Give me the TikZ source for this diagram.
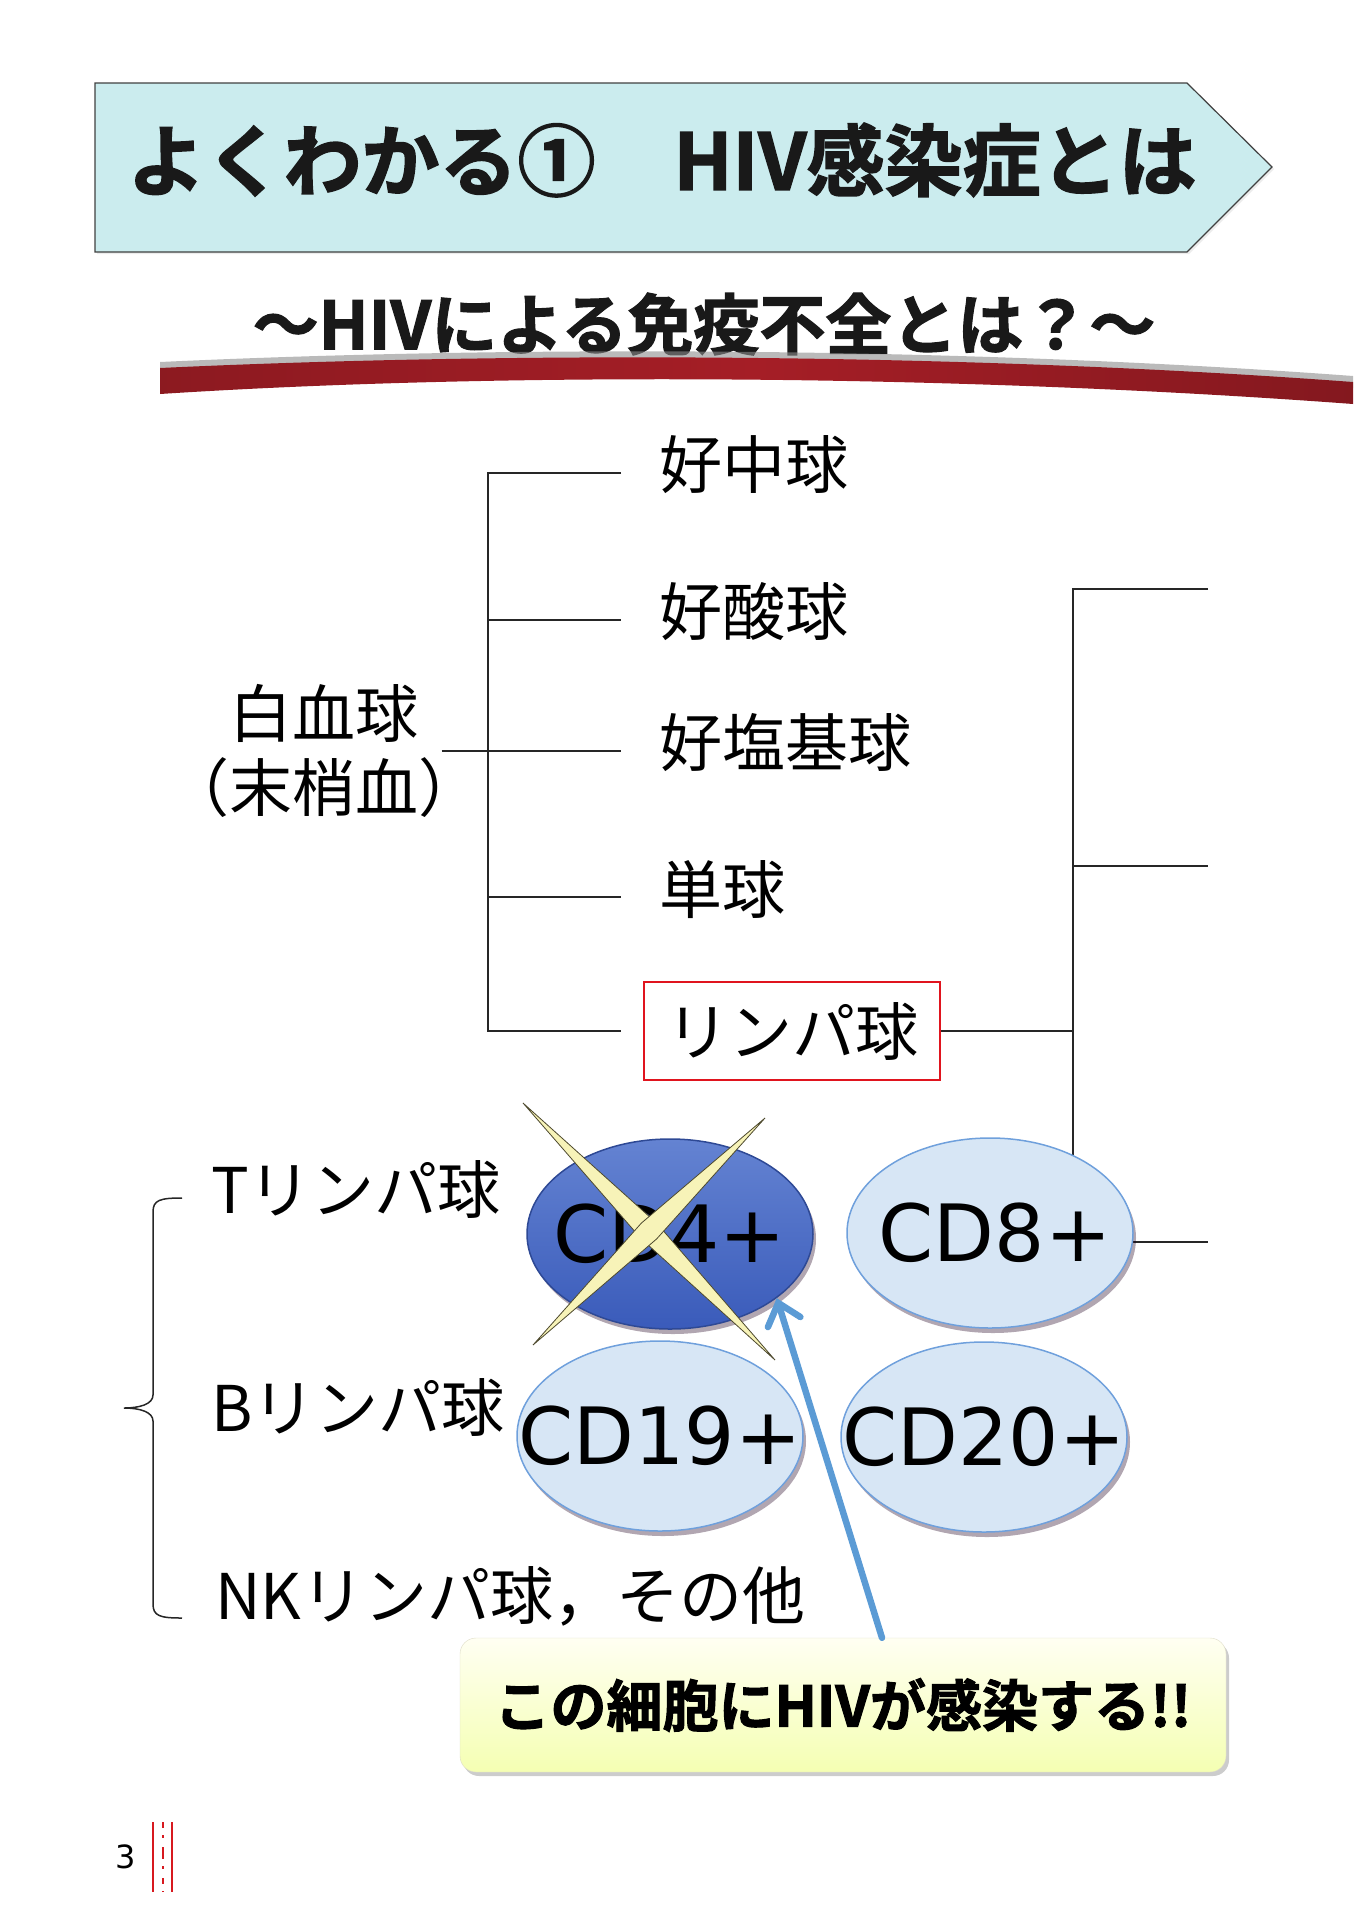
\documentclass[tikz,border=0pt]{standalone}
\usepackage{fontspec}
\setmainfont{Noto Sans CJK JP}
\newfontfamily\heavyfont{Noto Sans CJK JP Bold}[FakeBold=1.8]
\newfontfamily\latinfont{DejaVu Sans}
\usetikzlibrary{arrows.meta,positioning,shapes.geometric,calc,shadows}

\definecolor{titlecyan}{HTML}{CBECEE}
\definecolor{ribbonred}{HTML}{A51E26}
\definecolor{boxred}{HTML}{E0141E}
\definecolor{cellfill}{HTML}{D7E6F5}
\definecolor{cellrim}{HTML}{6FA0DC}
\definecolor{darktop}{HTML}{6483D2}
\definecolor{darkbot}{HTML}{3A5BBA}
\definecolor{arrowblue}{HTML}{5B9BD5}
\definecolor{crossfill}{HTML}{F7F3B8}
\definecolor{notered}{HTML}{D7191F}

\begin{document}
\begin{tikzpicture}[x=1pt, y=-1pt,
    leaf/.style={anchor=west, inner sep=0pt, font=\fontsize{63}{74}\selectfont},
    link/.style={line width=1.8pt, black!85},
    cell/.style={ellipse, draw=cellrim, line width=1.5pt, fill=cellfill,
        minimum width=286pt, minimum height=190pt, inner sep=0pt,
        font=\latinfont\fontsize{79}{88}\selectfont,
        drop shadow={shadow xshift=3pt, shadow yshift=-5pt, opacity=.35, fill=violet!25!black}},
    darkcell/.style={top color=darktop, bottom color=darkbot, draw=darkbot!80!black},
    crossstroke/.style={fill=crossfill, draw=black!60!olive, line width=.8pt},
    hivarrow/.style={draw=arrowblue, line width=6.5pt, line cap=round,
        -{Straight Barb[length=20pt, width=34pt, line cap=round]}},
    pagemark/.style={draw=notered, line width=2.5pt}
]
\useasboundingbox (0,0) rectangle (1353,1920);

% Title banner
\path[fill=titlecyan, draw=black!75, line width=1.2pt,
    drop shadow={shadow xshift=2pt, shadow yshift=-2pt, opacity=.15}]
    (95,83) -- (1187,83) -- (1272,167) -- (1187,252) -- (95,252) -- cycle;
\node[anchor=west, text=black!90, font=\heavyfont\fontsize{78}{82}\selectfont] (title) at (124,160)
    {よくわかる①　HIV感染症とは};

% Subtitle and red ribbon
\node[text=black!90, font=\heavyfont\fontsize{66}{70}\selectfont] (subtitle) at (704,324)
    {〜HIVによる免疫不全とは？〜};
\fill[black!45, opacity=.6] (160,362) .. controls (500,346) and (950,346) .. (1353,376)
    -- (1353,388) .. controls (950,360) and (500,360) .. (160,376) -- cycle;
\shade[left color=ribbonred!85!black, right color=ribbonred!80!black, middle color=ribbonred]
    (160,368) .. controls (500,352) and (950,352) .. (1353,382)
    -- (1353,404) .. controls (950,374) and (500,372) .. (160,394) -- cycle;

% White blood cells
\node[align=center, inner sep=0pt, font=\fontsize{63}{74}\selectfont] (wbc) at (324,751) {白血球\\（末梢血）};
\node[leaf] (neutro) at (659,465) {好中球};
\node[leaf] (eosino) at (659,612) {好酸球};
\node[leaf] (baso) at (659,743) {好塩基球};
\node[leaf] (mono) at (659,890) {単球};
\node[draw=boxred, line width=2pt, minimum width=296pt, minimum height=98pt,
    font=\fontsize{63}{74}\selectfont] (lympho) at (792,1031) {リンパ球};

\coordinate (lt) at (488,473);
\coordinate (lb) at (488,1031);
\coordinate (b1) at (621,473);
\coordinate (b2) at (621,620);
\coordinate (b3) at (621,751);
\coordinate (b4) at (621,897);
\coordinate (b5) at (621,1031);
\draw[link] (b1) -- (lt) -- (lb) -- (b5);
\draw[link] (lt|-b2) -- (b2);
\draw[link] (lt|-b4) -- (b4);
\draw[link] ([xshift=-40pt]wbc.east) -- (b3);

% Lymphocyte branches
\coordinate (rt) at (1073,589);
\coordinate (rb) at (1073,1242);
\coordinate (r1) at (1208,589);
\coordinate (r2) at (1208,866);
\coordinate (r3) at (1208,1242);
\draw[link] (lympho.east) -- (lympho.east-|rt);
\draw[link] (r1) -- (rt) -- (rb) -- (r3);
\draw[link] (rt|-r2) -- (r2);

% Lymphocyte kinds
\draw[link, line width=1.5pt] (182,1198) .. controls (160,1198) and (153,1200) .. (153,1212)
    -- (153,1395) .. controls (153,1404) and (140,1408) .. (124,1408)
    .. controls (140,1408) and (153,1412) .. (153,1421)
    -- (153,1604) .. controls (153,1616) and (160,1618) .. (182,1618);
\node[leaf] (tcell) at (211,1189) {Tリンパ球};
\node[leaf] (bcell) at (211,1407) {Bリンパ球};
\node[leaf] (nkcell) at (215,1596) {NKリンパ球，その他};

\node[cell, darkcell] (cd4) at (670,1234) {\makebox[0pt]{CD4+}};
\node[cell] (cd8) at (990,1233) {\makebox[0pt]{\hspace{10pt}CD8+}};
\node[cell] (cd19) at (660,1436) {\makebox[0pt]{CD19+}};
\node[cell] (cd20) at (984,1437) {\makebox[0pt]{CD20+}};

% Cross over CD4+
\coordinate (xc) at (649,1231);
\coordinate (x1a) at (523,1103);
\coordinate (x1b) at (775,1360);
\coordinate (x2a) at (765,1118);
\coordinate (x2b) at (533,1345);
\filldraw[crossstroke] (x1a) -- ($(xc)!11pt!90:(x1a)$) -- (x1b) -- ($(xc)!11pt!-90:(x1a)$) -- cycle;
\filldraw[crossstroke] (x2a) -- ($(xc)!11pt!90:(x2a)$) -- (x2b) -- ($(xc)!11pt!-90:(x2a)$) -- cycle;

% Callout
\node[rounded corners=16pt, minimum width=766pt, minimum height=134pt,
    top color=yellow!5, bottom color=yellow!45!lime!30, draw=yellow!40!black!25,
    drop shadow={shadow xshift=3pt, shadow yshift=-4pt, opacity=.4},
    font=\heavyfont\fontsize{56}{60}\selectfont] (callout) at (843,1705) {この細胞にHIVが感染する!!};
\draw[hivarrow] ([xshift=39pt]callout.north) -- (cd4.-31);

% Page number
\node[font=\latinfont\fontsize{32}{36}\selectfont] (pageno) at (126,1857) {3};
\draw[pagemark] (153,1822) -- (153,1892);
\draw[pagemark] (172,1822) -- (172,1892);
\draw[pagemark, dash pattern=on 6pt off 7pt on 3pt off 9pt on 12pt off 7pt on 3pt off 9pt] (163,1822) -- (163,1892);
\end{tikzpicture}
\end{document}
